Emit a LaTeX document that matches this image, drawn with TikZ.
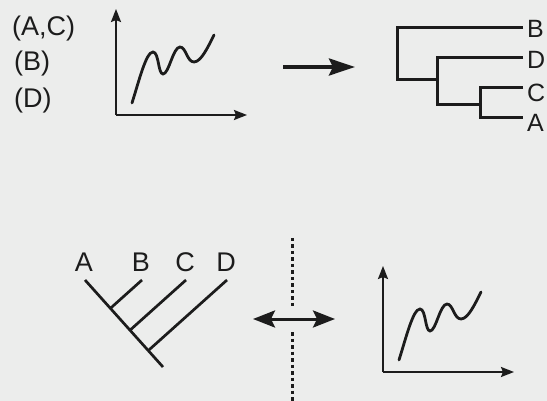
\documentclass[tikz,border=0pt]{standalone}
\usepackage{fontspec}
\setmainfont{Liberation Sans}
\usetikzlibrary{arrows.meta,calc}
\definecolor{bgc}{RGB}{236,237,236}
\definecolor{ink}{RGB}{28,28,28}
\tikzset{
  lbl/.style={inner sep=0pt,text=ink,font=\fontsize{27}{27}\selectfont},
  dlbl/.style={inner sep=0pt,text=ink,font=\fontsize{25}{25}\selectfont},
  biglbl/.style={inner sep=0pt,text=ink,font=\fontsize{27}{27}\selectfont},
  axisline/.style={draw=ink,line width=2.3pt,-{Stealth[length=13pt,width=10pt,inset=2pt]}},
  curveline/.style={draw=ink,line width=2.8pt,line cap=round},
  treeline/.style={draw=ink,line width=2.7pt},
  dendline/.style={draw=ink,line width=3pt},
  bigarrow/.style={draw=ink,line width=3.5pt,-{Stealth[length=26pt,width=17pt,inset=4pt]}},
  dblarrow/.style={draw=ink,line width=3pt,{Stealth[length=22pt,width=17pt,inset=4pt]}-{Stealth[length=22pt,width=17pt,inset=4pt]}},
  dotline/.style={draw=ink,line width=3.2pt,dash pattern=on 3.5pt off 3pt},
  graph/.pic={
    \coordinate (-o) at (0,0);
    \coordinate (-ytip) at (0,-106);
    \coordinate (-xtip) at (131,0);
    \draw[axisline] (-o) -- (-ytip);
    \draw[axisline] (-o) -- (-xtip);
    \draw[curveline] (16,-12)
      .. controls (23,-34) and (30,-63) .. (37,-63)
      .. controls (43,-63) and (42,-41) .. (47,-41)
      .. controls (53,-41) and (57,-68) .. (64,-68)
      .. controls (70,-68) and (71,-53) .. (78,-53)
      .. controls (85,-53) and (92,-68) .. (98,-80);
  }
}
\begin{document}
\begin{tikzpicture}[x=1pt,y=-1pt]
\fill[bgc] (0,0) rectangle (547,401);
\useasboundingbox (0,0) rectangle (547,401);

% top-left labels
\node[lbl,anchor=west] (lac) at (12,29) {(A,C)};
\node[lbl,anchor=west] (lb) at (14,64) {(B)};
\node[lbl,anchor=west] (ld) at (14,101) {(D)};

% top graph
\pic (g1) at (116,115) {graph};

% top arrow
\coordinate (ta1) at (283,67);
\coordinate (ta2) at (355,67);
\draw[bigarrow] (ta1) -- (ta2);

% dendrogram
\draw[dendline] (523,28) -- (397,28) -- (397,80) -- (437,80);
\draw[dendline] (523,58) -- (437,58) -- (437,105) -- (480,105);
\draw[dendline] (523,88) -- (480,88) -- (480,118) -- (523,118);
\node[dlbl,anchor=west] (dB) at (527,29) {B};
\node[dlbl,anchor=west] (dD) at (527,60) {D};
\node[dlbl,anchor=west] (dC) at (527,93) {C};
\node[dlbl,anchor=west] (dA) at (527,123) {A};

% bottom tree
\node[biglbl] (tA) at (84,262) {A};
\node[biglbl] (tB) at (141,262) {B};
\node[biglbl] (tC) at (185,262) {C};
\node[biglbl] (tD) at (226,262) {D};
\coordinate (m1) at (85,280);
\coordinate (m2) at (163,367);
\coordinate (bB) at (142,280);
\coordinate (bC) at (186,280);
\coordinate (bD) at (227,280);
\draw[treeline] (m1) -- (m2);
\draw[treeline] (bB) -- ($(m1)!(bB)!(m2)$);
\draw[treeline] (bC) -- ($(m1)!(bC)!(m2)$);
\draw[treeline] (bD) -- ($(m1)!(bD)!(m2)$);

% dotted divider
\coordinate (v1) at (292.5,238);
\coordinate (v2) at (292.5,306);
\coordinate (v3) at (292.5,332);
\coordinate (v4) at (292.5,401);
\draw[dotline] (v1) -- (v2);
\draw[dotline] (v3) -- (v4);

% double arrow
\coordinate (da1) at (253,319);
\coordinate (da2) at (335,319);
\draw[dblarrow] (da1) -- (da2);

% bottom graph
\pic (g2) at (383,372) {graph};
\end{tikzpicture}
\end{document}
